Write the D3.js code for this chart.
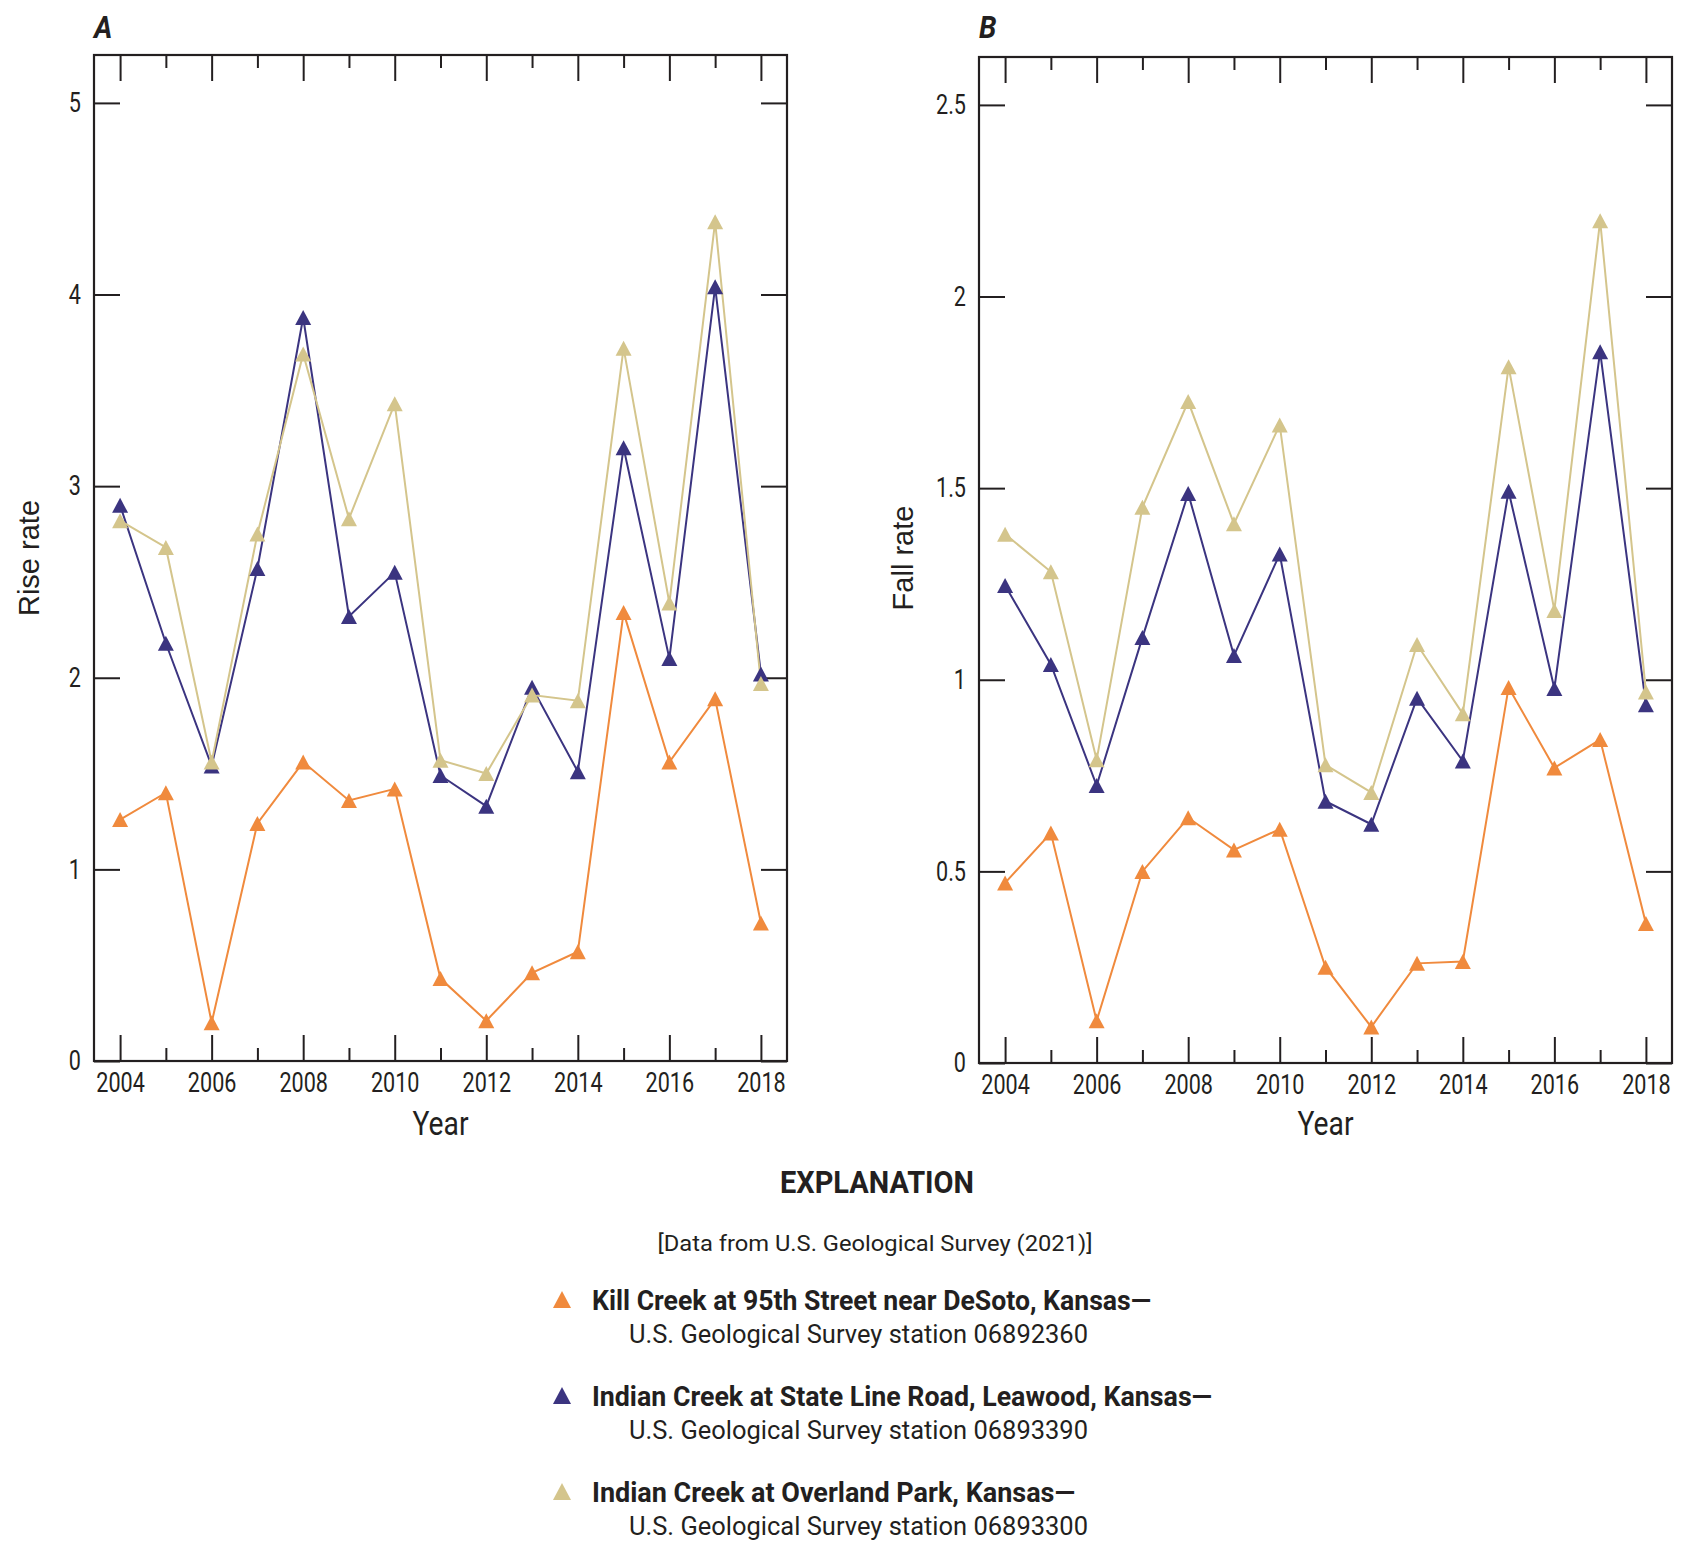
<!DOCTYPE html>
<html>
<head>
<meta charset="utf-8">
<script src="https://cdn.jsdelivr.net/npm/d3@7"></script>
<style>
  html, body { margin: 0; padding: 0; background: #fff; }
  svg { display: block; }
</style>
</head>
<body>
<svg id="chart" width="1693" height="1549"></svg>
<script>
// ---------------- data ----------------
const years = [2004, 2005, 2006, 2007, 2008, 2009, 2010, 2011, 2012, 2013, 2014, 2015, 2016, 2017, 2018];

const riseKill     = [1.26, 1.40, 0.20, 1.24, 1.56, 1.36, 1.42, 0.43, 0.21, 0.46, 0.57, 2.34, 1.56, 1.89, 0.72];
const riseLeawood  = [2.90, 2.18, 1.54, 2.57, 3.88, 2.32, 2.55, 1.49, 1.33, 1.95, 1.51, 3.20, 2.10, 4.04, 2.02];
const riseOverland = [2.82, 2.68, 1.56, 2.75, 3.69, 2.83, 3.43, 1.57, 1.50, 1.91, 1.88, 3.72, 2.39, 4.38, 1.97];

const fallKill     = [0.47, 0.60, 0.11, 0.50, 0.64, 0.556, 0.61, 0.25, 0.094, 0.26, 0.265, 0.98, 0.77, 0.844, 0.364];
const fallLeawood  = [1.246, 1.04, 0.724, 1.11, 1.486, 1.063, 1.328, 0.683, 0.623, 0.952, 0.788, 1.492, 0.977, 1.856, 0.935];
const fallOverland = [1.38, 1.282, 0.791, 1.45, 1.726, 1.407, 1.665, 0.778, 0.706, 1.092, 0.911, 1.817, 1.181, 2.198, 0.968];

const yearTickLabels = ["2004", "2006", "2008", "2010", "2012", "2014", "2016", "2018"];
const riseTicks = [0, 1, 2, 3, 4, 5];
const riseTickLabels = ["0", "1", "2", "3", "4", "5"];
const fallTicks = [0, 0.5, 1, 1.5, 2, 2.5];
const fallTickLabels = ["0", "0.5", "1", "1.5", "2", "2.5"];

const seriesNames = [
  "Kill Creek at 95th Street near DeSoto, Kansas\u2014",
  "Indian Creek at State Line Road, Leawood, Kansas\u2014",
  "Indian Creek at Overland Park, Kansas\u2014"
];
const stationNames = [
  "U.S. Geological Survey station 06892360",
  "U.S. Geological Survey station 06893390",
  "U.S. Geological Survey station 06893300"
];
const seriesColors = ["#F08A3D", "#3B3480", "#D4C58C"];

// ---------------- helpers ----------------
const INK = "#231F20";
const COND = "Roboto, 'Liberation Sans', sans-serif";
const SANS = "'Liberation Sans', Arial, sans-serif";

function condense(sel, f) {
  sel.each(function () {
    const w = this.getComputedTextLength();
    d3.select(this).attr("textLength", w * f).attr("lengthAdjust", "spacingAndGlyphs");
  });
}
function fitWidth(sel, w) {
  sel.attr("textLength", w).attr("lengthAdjust", "spacingAndGlyphs");
}
// triangle centred on its bounding box
function triangleType(w, h) {
  return {
    draw(ctx) {
      ctx.moveTo(0, -h / 2);
      ctx.lineTo(w / 2, h / 2);
      ctx.lineTo(-w / 2, h / 2);
      ctx.closePath();
    }
  };
}

const svg = d3.select("#chart");

function panel(cfg) {
  const g = svg.append("g");
  const x = d3.scaleLinear().domain([2003.43, 2018.57]).range([cfg.left, cfg.right]);
  const y = d3.scaleLinear().domain([0, cfg.ymax]).range([cfg.bottom, cfg.top]);

  const even = years.filter(d => d % 2 === 0);
  const odd = years.filter(d => d % 2 === 1);

  function tickAxis(axisFn, scale, values, size, transform) {
    const a = g.append("g").attr("transform", transform)
      .call(axisFn(scale).tickValues(values).tickSize(size).tickFormat(""));
    a.select(".domain").remove();
    a.selectAll("line").attr("stroke", INK).attr("stroke-width", 2);
    a.selectAll("text").remove();
  }
  // bottom ticks pointing inward (up)
  tickAxis(d3.axisTop, x, even, 26, `translate(0,${cfg.bottom})`);
  tickAxis(d3.axisTop, x, odd, 13, `translate(0,${cfg.bottom})`);
  // top ticks pointing inward (down)
  tickAxis(d3.axisBottom, x, even, 26, `translate(0,${cfg.top})`);
  tickAxis(d3.axisBottom, x, odd, 13, `translate(0,${cfg.top})`);
  // left/right y ticks inward
  tickAxis(d3.axisRight, y, cfg.ticks, 26, `translate(${cfg.left},0)`);
  tickAxis(d3.axisLeft, y, cfg.ticks, 26, `translate(${cfg.right},0)`);

  // frame
  g.append("rect")
    .attr("x", cfg.left).attr("y", cfg.top)
    .attr("width", cfg.right - cfg.left).attr("height", cfg.bottom - cfg.top)
    .attr("fill", "none").attr("stroke", INK).attr("stroke-width", 2.2);

  // x labels
  const xl = g.append("g").attr("transform", `translate(0,${cfg.bottom})`)
    .call(d3.axisBottom(x).tickValues(even).tickSize(0).tickPadding(12)
      .tickFormat((d, i) => yearTickLabels[i]));
  xl.select(".domain").remove();
  xl.selectAll("text").attr("font-family", COND).attr("font-size", 27).attr("fill", INK)
    .call(condense, 0.8);

  // y labels
  const yl = g.append("g").attr("transform", `translate(${cfg.left},0)`)
    .call(d3.axisLeft(y).tickValues(cfg.ticks).tickSize(0).tickPadding(13)
      .tickFormat((d, i) => cfg.tickLabels[i]));
  yl.select(".domain").remove();
  yl.selectAll("text").attr("font-family", COND).attr("font-size", 27).attr("fill", INK)
    .call(condense, 0.8);

  // axis titles
  g.append("text")
    .attr("x", (cfg.left + cfg.right) / 2).attr("y", 1135)
    .attr("text-anchor", "middle").attr("font-family", COND).attr("font-size", 34)
    .attr("fill", INK).text("Year").call(fitWidth, 56);

  g.append("text")
    .attr("transform", `translate(${cfg.ytitleX},558) rotate(-90)`)
    .attr("text-anchor", "middle").attr("font-family", SANS).attr("font-size", 29)
    .attr("fill", INK).text(cfg.ytitle);

  // panel letter
  g.append("text")
    .attr("x", cfg.left).attr("y", 37.5)
    .attr("font-family", COND).attr("font-size", 32).attr("font-weight", 700)
    .attr("font-style", "italic").attr("fill", INK).text(cfg.letter)
    .call(condense, 0.88);

  // series
  const line = d3.line().x((d, i) => x(years[i])).y(d => y(d));
  const sym = d3.symbol().type(triangleType(16, 15));
  cfg.series.forEach((vals, k) => {
    g.append("path").datum(vals).attr("d", line)
      .attr("fill", "none").attr("stroke", seriesColors[k]).attr("stroke-width", 2);
  });
  cfg.series.forEach((vals, k) => {
    g.selectAll(null).data(vals).join("path")
      .attr("transform", (d, i) => `translate(${x(years[i])},${y(d)})`)
      .attr("d", sym).attr("fill", seriesColors[k]);
  });
}

panel({
  left: 94, right: 787, top: 55, bottom: 1061, ymax: 5.25,
  ticks: riseTicks, tickLabels: riseTickLabels,
  ytitle: "Rise rate", ytitleX: 39, letter: "A",
  series: [riseKill, riseLeawood, riseOverland]
});
panel({
  left: 979, right: 1672, top: 57, bottom: 1063, ymax: 2.625,
  ticks: fallTicks, tickLabels: fallTickLabels,
  ytitle: "Fall rate", ytitleX: 913, letter: "B",
  series: [fallKill, fallLeawood, fallOverland]
});

// ---------------- legend ----------------
const lg = svg.append("g");
lg.append("text").attr("x", 877).attr("y", 1193).attr("text-anchor", "middle")
  .attr("font-family", COND).attr("font-weight", 700).attr("font-size", 30.5)
  .attr("fill", INK).text("EXPLANATION").call(fitWidth, 194);
lg.append("text").attr("x", 875).attr("y", 1251).attr("text-anchor", "middle")
  .attr("font-family", COND).attr("font-size", 22)
  .attr("fill", INK).text("[Data from U.S. Geological Survey (2021)]").call(fitWidth, 435);

const boldWidths = [559, 620, 483];
const legSym = d3.symbol().type(triangleType(18, 17));
seriesNames.forEach((name, k) => {
  const base = 1310 + k * 96;
  lg.append("path").attr("transform", `translate(562,${base - 10.5})`)
    .attr("d", legSym).attr("fill", seriesColors[k]);
  lg.append("text").attr("x", 592).attr("y", base)
    .attr("font-family", COND).attr("font-weight", 700).attr("font-size", 28)
    .attr("fill", INK).text(name).call(fitWidth, boldWidths[k]);
  lg.append("text").attr("x", 629).attr("y", base + 33)
    .attr("font-family", COND).attr("font-size", 26)
    .attr("fill", INK).text(stationNames[k]).call(fitWidth, 459);
});
</script>
</body>
</html>
